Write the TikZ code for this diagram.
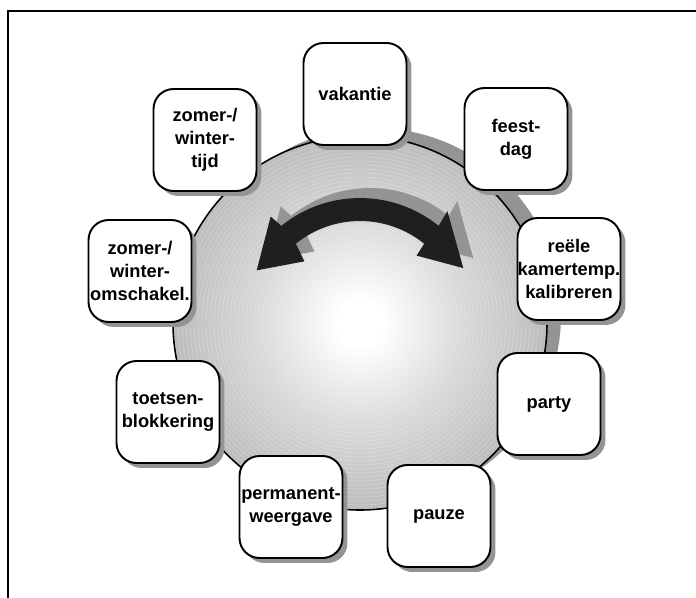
\documentclass[tikz,border=0pt]{standalone}
\usepackage{fontspec}
\setmainfont{Liberation Sans}
\usetikzlibrary{shadows}

\definecolor{schaduw}{gray}{0.58}
\pgfdeclareradialshading{schijf}{\pgfpoint{0bp}{0bp}}{color(0bp)=(white); color(3bp)=(white); color(14bp)=(black!15); color(25bp)=(black!26); color(50bp)=(black!26)}

% double curved arrow (polar, around the disc centre)
\newcommand{\pijlpad}{(51:2.5) arc[start angle=51, end angle=129, radius=2.5]
  -- (130:2.78) -- (153:2.32) -- (132:1.66) -- (129:2.04)
  arc[start angle=129, end angle=51, radius=2.04]
  -- (50:1.76) -- (28:2.34) -- (52:2.84) -- cycle}

\begin{document}
\begin{tikzpicture}[x=0.02cm, y=-0.02cm,
  functie/.style={draw=black, line width=1.1pt, fill=white, rounded corners=0.4cm,
    minimum width=2.06cm, minimum height=2.04cm, inner sep=0pt, align=center,
    font=\bfseries\fontsize{10.4}{13}\selectfont,
    drop shadow={shadow xshift=0.1cm, shadow yshift=-0.1cm, fill=schaduw, opacity=1}}]
  \useasboundingbox (0,0) rectangle (696,598);

  % --- frame ---
  \draw[line width=0.6pt] (8,598) -- (8,11) -- (696,11);

  % --- disc ---
  \coordinate (midden) at (360,323);
  \fill[schaduw] (374,315) circle[radius=187];
  \shade[shading=schijf] (midden) circle[radius=187];
  % fine rings
  \foreach \r in {6,10,...,186}
    \draw[white, opacity=0.35, line width=0.2pt] (midden) circle[radius=\r];
  \draw[line width=0.9pt] (midden) circle[radius=187];

  % --- arrow with shadow ---
  \begin{scope}[shift={(midden)}, x=1cm, y=1cm]
    \fill[schaduw, xshift=0.2cm, yshift=0.2cm] \pijlpad;
    \fill[black!88] \pijlpad;
  \end{scope}

  % --- functions ---
  \node[functie] (vakantie)   at (355,94)  {vakantie};
  \node[functie] (feestdag)   at (516,139) {feest-\\dag};
  \node[functie] (kalibreren) at (569,269) {reële\\kamertemp.\\kalibreren};
  \node[functie] (party)      at (549,404) {party};
  \node[functie] (pauze)      at (439,516) {pauze};
  \node[functie] (weergave)   at (291,507) {permanent-\\weergave};
  \node[functie] (blokkering) at (168,412) {toetsen-\\blokkering};
  \node[functie] (omschakel)  at (140,271) {zomer-/\\winter-\\omschakel.};
  \node[functie] (zomertijd)  at (205,140) {zomer-/\\winter-\\tijd};
\end{tikzpicture}
\end{document}
